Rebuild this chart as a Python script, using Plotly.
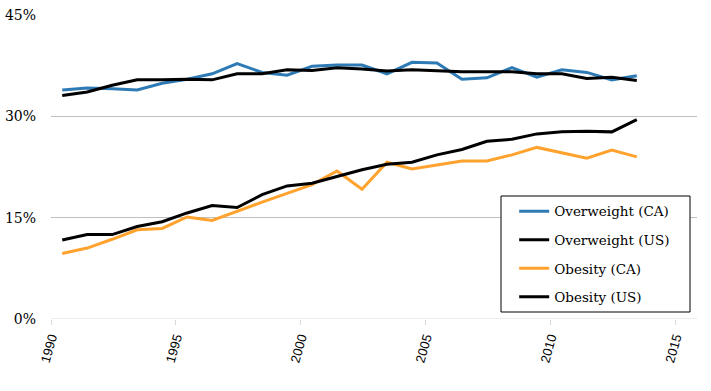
import plotly.graph_objects as go

years = list(range(1990, 2014))
overweight_ca = [33.9, 34.2, 34.1, 33.9, 34.9, 35.5, 36.3, 37.8, 36.5, 36.1, 37.4, 37.6,
                 37.6, 36.3, 38.0, 37.9, 35.5, 35.7, 37.2, 35.8, 36.9, 36.5, 35.4, 36.0]
overweight_us = [33.1, 33.6, 34.6, 35.4, 35.4, 35.5, 35.4, 36.3, 36.3, 36.9, 36.8, 37.2,
                 37.0, 36.7, 36.9, 36.7, 36.6, 36.6, 36.6, 36.3, 36.3, 35.6, 35.8, 35.3]
obesity_ca = [9.7, 10.5, 11.8, 13.2, 13.4, 15.1, 14.6, 16.0, 17.3, 18.6, 19.9, 21.9,
              19.2, 23.2, 22.2, 22.8, 23.4, 23.4, 24.3, 25.4, 24.6, 23.8, 25.0, 24.0]
obesity_us = [11.7, 12.5, 12.5, 13.7, 14.4, 15.7, 16.8, 16.5, 18.4, 19.7, 20.1, 21.1,
              22.1, 22.9, 23.2, 24.3, 25.1, 26.3, 26.6, 27.4, 27.7, 27.8, 27.7, 29.5]
series_names = ["Overweight (CA)", "Overweight (US)", "Obesity (CA)", "Obesity (US)"]
series_colors = ["#2e7ab5", "#000000", "#ffa22e", "#000000"]
y_ticks = [0, 15, 30, 45]
x_ticks = [1990, 1995, 2000, 2005, 2010, 2015]

# points sit mid-year
xpos = [y + 0.45 for y in years]

fig = go.Figure()
for name, vals, col in zip(series_names, [overweight_ca, overweight_us, obesity_ca, obesity_us], series_colors):
    fig.add_trace(go.Scatter(x=xpos, y=vals, mode="lines", name=name, legendgroup=name,
                             line=dict(color=col, width=3)))

serif = "DejaVu Serif"
fig.update_layout(
    width=711, height=391,
    margin=dict(l=51, r=14, t=15, b=72),
    plot_bgcolor="white", paper_bgcolor="white",
    showlegend=True,
    legend=dict(x=0.717, y=0.405, xanchor="left", yanchor="top",
                borderwidth=0, bgcolor="rgba(0,0,0,0)",
                font=dict(family=serif, size=13.5, color="black"),
                tracegroupgap=8),
    xaxis=dict(range=[1990, 2015.86], tickvals=x_ticks, ticktext=[str(t) for t in x_ticks],
               tickangle=-74, showgrid=False, zeroline=False, automargin=False,
               showline=False, ticks="outside", ticklen=5, tickcolor="#d9d9d9",
               tickfont=dict(family="Liberation Sans", size=13, color="black")),
    yaxis=dict(range=[0, 45], tickvals=y_ticks, ticktext=[f"{t}%" for t in y_ticks],
               showgrid=True, gridcolor="#bfbfbf", gridwidth=1, zeroline=False,
               showline=False, ticks="", ticklabelstandoff=14, automargin=False,
               tickfont=dict(family=serif, size=14, color="black")),
)
fig.add_shape(type="line", xref="paper", yref="y", x0=0, x1=1, y0=0, y1=0,
              line=dict(color="#d9d9d9", width=1), layer="above")
# legend frame
fig.add_shape(type="rect", xref="paper", yref="paper",
              x0=(501 - 51) / 646, x1=(690 - 51) / 646,
              y0=(319 - 312) / 304, y1=(319 - 196) / 304,
              line=dict(color="black", width=1), fillcolor="white", layer="above")
fig.write_html("out.html", config={"displayModeBar": False},
               post_script="document.body.style.margin='0';")
